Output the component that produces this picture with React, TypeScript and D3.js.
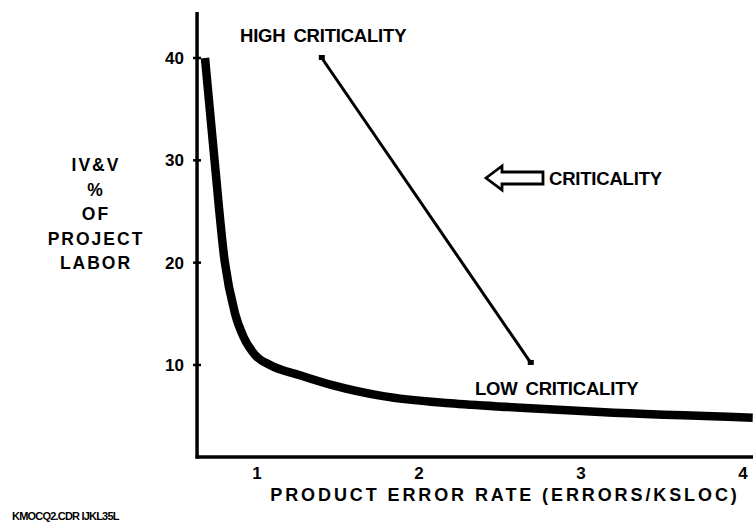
import { useEffect, useRef } from 'react'
import * as d3 from 'd3'

// curve: IV&V % of project labor vs product error rate
const curveRate = [0.679, 0.738, 0.8, 0.864, 0.916, 0.988, 1.08, 1.265, 1.471, 1.778, 2.191, 2.6, 3.117, 4.06]
const curveLabor = [40, 30, 20.2, 15.05, 12.77, 10.98, 10.0, 9.0, 8.0, 6.95, 6.25, 5.85, 5.4, 4.85]

// criticality line (high -> low)
const critRate = [1.4, 2.69]
const critLabor = [40, 10.2]

const xTicks = [1, 2, 3, 4]
const yTicks = [10, 20, 30, 40]
const yTitle = ['IV&V', '%', 'OF', 'PROJECT', 'LABOR']

export default function App() {
  const svgRef = useRef<SVGSVGElement>(null)

  useEffect(() => {
    const svg = d3.select(svgRef.current)
    svg.selectAll('*').remove()

    const W = 753
    const H = 525
    svg.attr('width', W).attr('height', H)

    const font = '"Liberation Sans", Arial, sans-serif'

    const x = d3.scaleLinear().domain([0, 4]).range([95, 743])
    const y = d3.scaleLinear().domain([0, 40]).range([467.3, 58])

    const x0 = 0.63
    const x1 = 4.07
    const yMin = 1.0
    const yMax = 44.5

    const g = svg.append('g')

    // axes
    g.append('line')
      .attr('x1', x(x0)).attr('x2', x(x0))
      .attr('y1', y(yMax)).attr('y2', y(yMin) + 1.5)
      .attr('stroke', '#000').attr('stroke-width', 3.5)
    g.append('line')
      .attr('x1', x(x0) - 1.5).attr('x2', x(x1))
      .attr('y1', y(yMin)).attr('y2', y(yMin))
      .attr('stroke', '#000').attr('stroke-width', 3.5)

    // y ticks
    g.selectAll('.ytick')
      .data(yTicks)
      .enter()
      .append('line')
      .attr('x1', x(x0) - 4).attr('x2', x(x0) + 4)
      .attr('y1', (d) => y(d)).attr('y2', (d) => y(d))
      .attr('stroke', '#000').attr('stroke-width', 2.5)

    g.selectAll('.ylab')
      .data(yTicks)
      .enter()
      .append('text')
      .attr('x', 184)
      .attr('y', (d) => y(d) + 6)
      .attr('text-anchor', 'end')
      .style('font-family', font)
      .style('font-size', '17px')
      .style('font-weight', 'bold')
      .text((d) => `${d}`)

    g.selectAll('.xlab')
      .data(xTicks)
      .enter()
      .append('text')
      .attr('x', (d) => x(d))
      .attr('y', 479)
      .attr('text-anchor', 'middle')
      .style('font-family', font)
      .style('font-size', '17px')
      .style('font-weight', 'bold')
      .text((d) => `${d}`)

    // y title
    g.selectAll('.ytitle')
      .data(yTitle)
      .enter()
      .append('text')
      .attr('x', 96)
      .attr('y', (_, i) => 171 + i * 24.5)
      .attr('text-anchor', 'middle')
      .style('font-family', font)
      .style('font-size', '17.5px')
      .style('font-weight', 'bold')
      .style('letter-spacing', '2px')
      .text((d) => d)

    // x title
    g.append('text')
      .attr('x', 505)
      .attr('y', 501)
      .attr('text-anchor', 'middle')
      .style('font-family', font)
      .style('font-size', '18px')
      .style('font-weight', 'bold')
      .style('letter-spacing', '2.9px')
      .text('PRODUCT ERROR RATE (ERRORS/KSLOC)')

    // file label
    g.append('text')
      .attr('x', 12)
      .attr('y', 520)
      .style('font-family', font)
      .style('font-size', '11px')
      .style('font-weight', 'bold')
      .style('letter-spacing', '-0.8px')
      .text('KMOCQ2.CDR  IJKL35L')

    // main curve
    const pts = curveRate.map((r, i) => [r, curveLabor[i]] as [number, number])
    const line = d3
      .line<[number, number]>()
      .x((d) => x(d[0]))
      .y((d) => y(d[1]))
      .curve(d3.curveMonotoneX)
    g.append('path')
      .datum(pts)
      .attr('fill', 'none')
      .attr('stroke', '#000')
      .attr('stroke-width', 8.5)
      .attr('d', line)

    // criticality line
    const cpts = critRate.map((r, i) => [r, critLabor[i]] as [number, number])
    g.append('path')
      .datum(cpts)
      .attr('fill', 'none')
      .attr('stroke', '#000')
      .attr('stroke-width', 3)
      .attr('d', d3.line<[number, number]>().x((d) => x(d[0])).y((d) => y(d[1])))
    g.selectAll('.cend')
      .data(cpts)
      .enter()
      .append('rect')
      .attr('x', (d) => x(d[0]) - 3)
      .attr('y', (d) => y(d[1]) - 3)
      .attr('width', 6)
      .attr('height', 5)
      .attr('fill', '#000')

    // annotations
    const ann = (t: string, ax: number, ay: number) =>
      g.append('text')
        .attr('x', ax)
        .attr('y', ay)
        .style('font-family', font)
        .style('font-size', '18.5px')
        .style('font-weight', 'bold')
        .style('letter-spacing', '-0.2px')
        .style('word-spacing', '3px')
        .text(t)
    ann('HIGH CRITICALITY', 240, 42)
    ann('LOW CRITICALITY', 475, 395)
    ann('CRITICALITY', 549, 185)

    // hollow arrow
    const ay = 178
    const arrow = [
      [486, ay], [502, ay - 12], [502, ay - 6], [543, ay - 6],
      [543, ay + 6], [502, ay + 6], [502, ay + 12],
    ]
    g.append('path')
      .attr('d', 'M' + arrow.map((p) => p.join(',')).join('L') + 'Z')
      .attr('fill', '#fff')
      .attr('stroke', '#000')
      .attr('stroke-width', 2.8)
      .attr('stroke-linejoin', 'miter')
  }, [])

  return (
    <div style={{ position: 'absolute', left: 0, top: 0, background: '#fff' }}>
      <svg ref={svgRef} style={{ display: 'block' }} />
    </div>
  )
}
